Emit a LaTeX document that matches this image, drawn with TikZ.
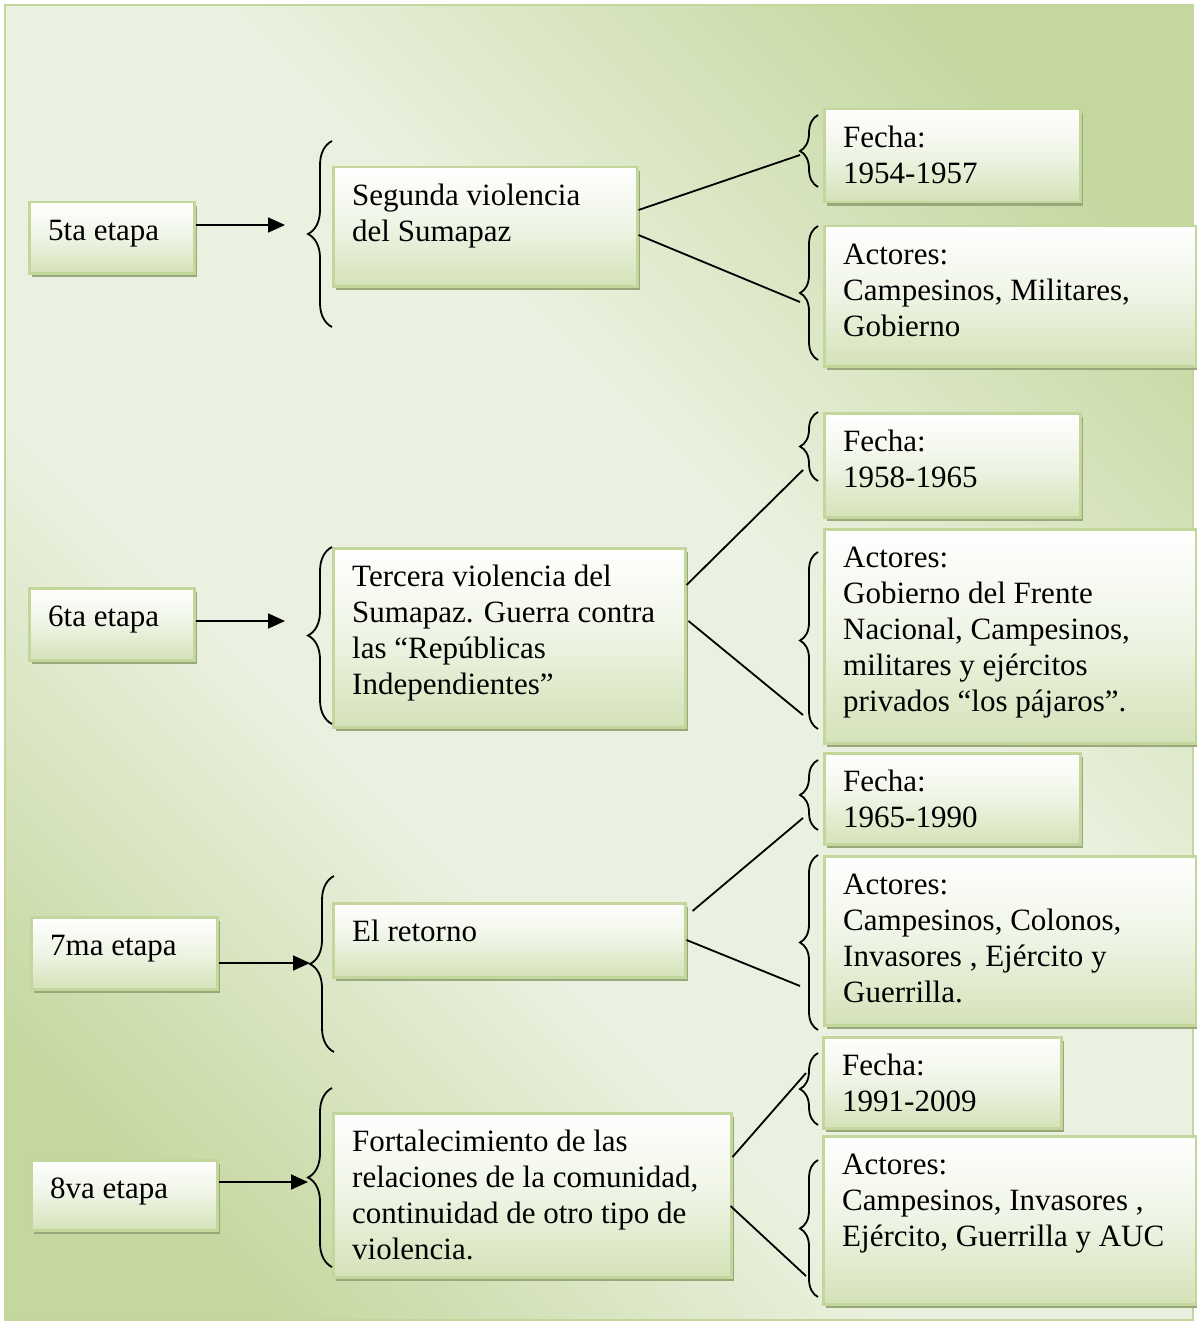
\documentclass[tikz,border=0pt]{standalone}
\usepackage{fontspec}
\setmainfont{Liberation Serif}
\usetikzlibrary{arrows.meta,shadows,decorations.pathreplacing}
\definecolor{boxborder}{HTML}{C3D69B}
\definecolor{boxbottom}{HTML}{D4E2B8}
\definecolor{boxmid}{HTML}{EEF4E4}
\definecolor{shadowc}{HTML}{98A87A}
\definecolor{bglight}{HTML}{EBF1E0}
\definecolor{bggreen}{HTML}{C4D79E}
\pgfdeclareverticalshading{bgshade}{100bp}{color(0bp)=(bggreen); color(22bp)=(bggreen); color(40bp)=(bglight); color(58bp)=(bglight); color(78bp)=(bggreen); color(100bp)=(bggreen)}
\tikzset{
  tbox/.style={shape=rectangle, draw=boxborder, line width=2.5pt,
    top color=white, bottom color=boxbottom, middle color=boxmid,
    drop shadow={shadow xshift=3pt, shadow yshift=-4pt, fill=shadowc, opacity=1, draw=none},
    inner sep=0pt, anchor=north west},
  txt/.style={anchor=north west, inner sep=0pt, align=left, font=\fontsize{31}{36}\selectfont},
  conn/.style={line width=1.8pt, draw=black},
  arr/.style={line width=1.8pt, draw=black, -{Triangle[length=17pt,width=15pt]}},
  brc/.style={decorate, decoration={brace, amplitude=#1}, line width=1.8pt, draw=black}
}
\newcommand\mkbox[6]{%
  \node[tbox, minimum width={(#4-#2)*1pt}, minimum height={(#5-#3)*1pt}] (#1) at (#2,#3) {};
  \node[txt] (#1t) at ([xshift=20pt,yshift=-13.8pt]#1.north west) {\strut #6};
}
\begin{document}
\begin{tikzpicture}[x=1pt,y=-1pt]
\useasboundingbox (0,0) rectangle (1196,1324);
\fill[white] (0,0) rectangle (1196,1324);
\shade[shading=bgshade, shading angle=-45] (5,5) rectangle (1193,1320);
\draw[boxborder, line width=2.5pt] (5,5) rectangle (1193,1320);

% left column
\mkbox{e5}{28}{201}{193}{272}{5ta etapa}
\mkbox{e6}{28}{587}{193}{659}{6ta etapa}
\mkbox{e7}{30}{916}{216}{988}{7ma etapa}
\mkbox{e8}{30}{1159}{216}{1229}{8va etapa}

% middle column
\mkbox{m5}{332}{166}{636}{285}{Segunda violencia\\del Sumapaz}
\mkbox{m6}{332}{547}{684}{726}{Tercera violencia del\\Sumapaz. Guerra contra\\las “Repúblicas\\Independientes”}
\mkbox{m7}{332}{902}{684}{976}{El retorno}
\mkbox{m8}{332}{1112}{730}{1276}{Fortalecimiento de las\\relaciones de la comunidad,\\continuidad de otro tipo de\\violencia.}

% right column
\mkbox{f5}{823}{108}{1079}{201}{Fecha:\\1954-1957}
\mkbox{a5}{823}{225}{1195}{365}{Actores:\\Campesinos, Militares,\\Gobierno}
\mkbox{f6}{823}{412}{1079}{516}{Fecha:\\1958-1965}
\mkbox{a6}{823}{528}{1195}{742}{Actores:\\Gobierno del Frente\\Nacional, Campesinos,\\militares y ejércitos\\privados “los pájaros”.}
\mkbox{f7}{823}{752}{1079}{843}{Fecha:\\1965-1990}
\mkbox{a7}{823}{855}{1195}{1024}{Actores:\\Campesinos, Colonos,\\Invasores , Ejército y\\Guerrilla.}
\mkbox{f8}{822}{1036}{1060}{1127}{Fecha:\\1991-2009}
\mkbox{a8}{822}{1135}{1195}{1303}{Actores:\\Campesinos, Invasores ,\\Ejército, Guerrilla y AUC}

% big braces
\draw[brc=24pt] (332,327) -- (332,141);
\draw[brc=24pt] (332,724) -- (332,547);
\draw[brc=24pt] (334,1052) -- (334,876);
\draw[brc=24pt] (332,1267) -- (332,1088);

% small braces
\draw[brc=18pt] (818,187) -- (818,115);
\draw[brc=18pt] (818,360) -- (818,226);
\draw[brc=18pt] (818,481) -- (818,412);
\draw[brc=18pt] (818,729) -- (818,552);
\draw[brc=18pt] (818,830) -- (818,760);
\draw[brc=18pt] (818,1030) -- (818,855);
\draw[brc=18pt] (818,1125) -- (818,1053);
\draw[brc=18pt] (818,1297) -- (818,1160);

% arrows
\coordinate (t5) at (285,225);
\coordinate (t6) at (285,621);
\coordinate (t7) at (310,963);
\coordinate (t8) at (308,1182);
\draw[arr] (e5.east |- t5) -- (t5);
\draw[arr] (e6.east |- t6) -- (t6);
\draw[arr] (e7.east |- t7) -- (t7);
\draw[arr] (e8.east |- t8) -- (t8);

% connectors
\coordinate (c5a) at (800,155);
\coordinate (c5b) at (800,302);
\coordinate (c6a) at (803,470);
\coordinate (c6b) at (803,715);
\coordinate (c7a) at (803,818);
\coordinate (c7b) at (800,986);
\coordinate (c8a) at (806,1073);
\coordinate (c8b) at (806,1276);
\draw[conn] ([yshift=-44pt]m5.north east) -- (c5a);
\draw[conn] ([yshift=-69pt]m5.north east) -- (c5b);
\draw[conn] ([yshift=-38pt]m6.north east) -- (c6a);
\draw[conn] ([xshift=2pt,yshift=-74pt]m6.north east) -- (c6b);
\draw[conn] ([xshift=6pt,yshift=-9pt]m7.north east) -- (c7a);
\draw[conn] ([yshift=-38pt]m7.north east) -- (c7b);
\draw[conn] ([yshift=-45pt]m8.north east) -- (c8a);
\draw[conn] ([xshift=-2pt,yshift=-94pt]m8.north east) -- (c8b);
\end{tikzpicture}
\end{document}
